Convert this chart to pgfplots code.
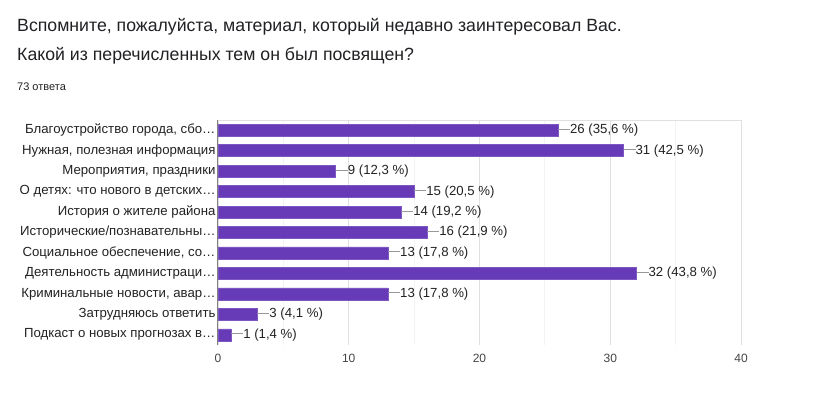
\documentclass[border=0pt]{standalone}
\usepackage{pgfplots}
\pgfplotsset{compat=1.18}
\usepackage{fontspec}
\setmainfont{Liberation Sans}
\definecolor{barc}{HTML}{673AB7}
\definecolor{titlec}{HTML}{202124}
\definecolor{labc}{HTML}{222222}
\definecolor{tickc}{HTML}{444444}
\definecolor{gridc}{HTML}{E0E0E0}
\definecolor{minorc}{HTML}{F3F3F3}
\definecolor{connc}{HTML}{999999}
\newcommand{\conn}{{\color{connc}\rule[0.32em]{12pt}{0.7pt}}}
\begin{document}
\begin{tikzpicture}[x=1pt,y=1pt]
\path[use as bounding box] (0,0) rectangle (825,393);
\node[anchor=base west, inner sep=0pt, text=titlec, font=\fontsize{17.7}{20}\selectfont] at (17,393-32) {Вспомните, пожалуйста, материал, который недавно заинтересовал Вас.};
\node[anchor=base west, inner sep=0pt, text=titlec, font=\fontsize{17.7}{20}\selectfont] at (17,393-61) {Какой из перечисленных тем он был посвящен?};
\node[anchor=base west, inner sep=0pt, text=titlec, font=\fontsize{11}{13}\selectfont] at (17,393-91) {73 ответа};
\begin{axis}[
  at={(218pt,48pt)}, anchor=south west,
  width=523pt, height=225pt, scale only axis,
  xbar, bar width=12pt,
  xmin=0, xmax=40,
  ymin=-0.5, ymax=10.5, y dir=reverse,
  xtick={0,10,20,30,40},
  minor xtick={5,15,25,35},
  ytick={0,...,10},
  yticklabels={{Благоустройство города, сбо…},{Нужная, полезная информация},{Мероприятия, праздники},{О детях: что нового в детских…},{История о жителе района},{Исторические/познавательны…},{Социальное обеспечение, со…},{Деятельность администраци…},{Криминальные новости, авар…},{Затрудняюсь ответить},{Подкаст о новых прогнозах в…}},
  xmajorgrids, xminorgrids,
  major grid style={draw=gridc, line width=0.8pt},
  minor grid style={draw=minorc, line width=0.8pt},
  axis line style={draw=none},
  major tick length=0pt, minor tick length=0pt,
  tick style={draw=none},
  yticklabel style={font=\fontsize{13.2}{15}\selectfont, text=labc, xshift=1pt},
  xticklabel style={font=\fontsize{12}{14}\selectfont, text=tickc, yshift=-6pt},
  /pgf/number format/assume math mode=true,
  point meta=explicit symbolic,
  nodes near coords,
  nodes near coords align={horizontal},
  every node near coord/.append style={font=\fontsize{13.2}{15}\selectfont, text=labc, inner sep=0pt, anchor=west, xshift=0pt},
  clip=false,
]
\addplot[fill=barc, draw=barc!85!white, line width=0.4pt] coordinates {
(26,0) [\conn 26 (35,6 \%)]
(31,1) [\conn 31 (42,5 \%)]
(9,2) [\conn 9 (12,3 \%)]
(15,3) [\conn 15 (20,5 \%)]
(14,4) [\conn 14 (19,2 \%)]
(16,5) [\conn 16 (21,9 \%)]
(13,6) [\conn 13 (17,8 \%)]
(32,7) [\conn 32 (43,8 \%)]
(13,8) [\conn 13 (17,8 \%)]
(3,9) [\conn 3 (4,1 \%)]
(1,10) [\conn 1 (1,4 \%)]
};
\draw[draw=gridc, line width=0.8pt] (rel axis cs:0,1) -- (rel axis cs:1,1);
\draw[draw=gray, line width=1pt] (rel axis cs:0,0) -- (rel axis cs:0,1);
\end{axis}
\end{tikzpicture}
\end{document}
